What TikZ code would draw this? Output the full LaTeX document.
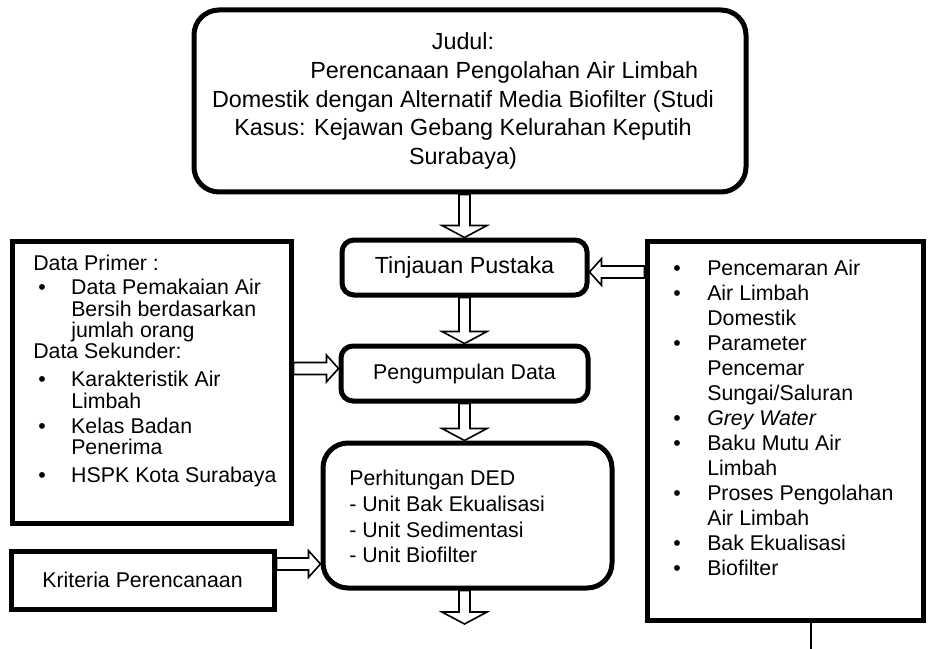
\documentclass[tikz,border=0pt]{standalone}
\usepackage{fontspec}
\setmainfont{Liberation Sans}
\usepackage{tikz}
\usetikzlibrary{calc}

\newcommand{\bul}{\makebox[28.5pt][l]{\hspace{3.75pt}\textbullet}}
\newcommand{\indt}{\hspace*{28.5pt}}
\newcommand{\bulr}{\makebox[25.5pt][l]{\textbullet}}
\newcommand{\indr}{\hspace*{25.5pt}}

\begin{document}
\begin{tikzpicture}[x=0.75pt,y=-0.75pt,
		box/.style={draw,line width=3.75pt,fill=white,inner sep=0pt},
		roundbox/.style={box,rounded corners=9pt},
		blockarrow/.style n args={2}{draw,fill=white,line width=1.2pt,to path={
			let \p1=(\tikztostart),\p2=(\tikztotarget),
			\n1={atan2(\y2-\y1,\x2-\x1)},\n2={veclen(\x2-\x1,\y2-\y1)} in
			($(\p1)+(\n1+90:#1)$) -- ($(\p1)+(\n1:\n2-9pt)+(\n1+90:#1)$)
			-- ($(\p1)+(\n1:\n2-9pt)+(\n1+90:#2)$) -- (\p2)
			-- ($(\p1)+(\n1:\n2-9pt)+(\n1-90:#2)$) -- ($(\p1)+(\n1:\n2-9pt)+(\n1-90:#1)$)
			-- ($(\p1)+(\n1-90:#1)$) -- cycle}},
		varrow/.style={blockarrow={4.1pt}{16.9pt}},
		harrow/.style={blockarrow={4.5pt}{10pt}},
		isi/.style={font=\fontsize{16}{19.25}\selectfont},
		judulfont/.style={font=\fontsize{17.5}{21.5}\selectfont},
		daftar/.style={anchor=north west,inner sep=0pt,align=left}]
		\useasboundingbox (0,0) rectangle (928,649);
		
		\node[roundbox,rounded corners=18.75pt,minimum width=414pt,minimum height=136.5pt] (judul) at (470,101) {};
		\node[roundbox,minimum width=183.75pt,minimum height=41.25pt,judulfont] (tinjauan) at (464.5,267.5) {Tinjauan Pustaka};
		\node[roundbox,minimum width=185.25pt,minimum height=41.25pt,isi] (pengumpulan) at (464.5,373.5) {Pengumpulan Data};
		\node[roundbox,rounded corners=18.75pt,minimum width=216.75pt,minimum height=108.75pt] (perhitungan) at (467.5,515.5) {};
		\node[box,minimum width=209.25pt,minimum height=211.5pt] (primer) at (151.5,382) {};
		\node[box,minimum width=197.25pt,minimum height=43.5pt,isi] (kriteria) at (142.5,580) {Kriteria Perencanaan};
		\node[box,minimum width=207pt,minimum height=284.25pt] (kajian) at (785,430.5) {};
		
		\node[judulfont,align=center,inner sep=0pt] (judulisi) at ($(judul)+(-7,0)$)
		{Judul:\\ \hspace*{62pt}Perencanaan Pengolahan Air Limbah\\ Domestik dengan Alternatif Media Biofilter (Studi\\ Kasus: Kejawan Gebang Kelurahan Keputih\\ Surabaya)};
		\node[daftar,font=\fontsize{16}{16}\selectfont] (primerisi) at (33,255)
		{Data Primer :\\[2pt]
			\bul Data Pemakaian Air\\
			\indt Bersih berdasarkan\\
			\indt jumlah orang\\
			Data Sekunder:\\[5pt]
			\bul Karakteristik Air\\
			\indt Limbah\\[3pt]
			\bul Kelas Badan\\
			\indt Penerima\\[5pt]
			\bul HSPK Kota Surabaya};
		\node[daftar,font=\fontsize{16}{18.75}\selectfont] (kajianisi) at (673,260)
		{\bulr Pencemaran Air\\
			\bulr Air Limbah\\
			\indr Domestik\\
			\bulr Parameter\\
			\indr Pencemar\\
			\indr Sungai/Saluran\\
			\bulr \textit{Grey Water}\\
			\bulr Baku Mutu Air\\
			\indr Limbah\\
			\bulr Proses Pengolahan\\
			\indr Air Limbah\\
			\bulr Bak Ekualisasi\\
			\bulr Biofilter};
		\node[daftar,isi] (perhitunganisi) at (349,470)
		{Perhitungan DED\\ - Unit Bak Ekualisasi\\ - Unit Sedimentasi\\ - Unit Biofilter};
		
		\coordinate (akhir) at (464.5,624);
		\coordinate (masuk) at ($(pengumpulan.west)+(0,-5)$);
		\coordinate (kembali) at ($(tinjauan.east)+(0,4.5)$);
		\coordinate (kriteriakanan) at ($(kriteria.east)+(0,-16)$);
		\coordinate (ujung) at (811,649);
		
		\draw[varrow] (tinjauan.north |- judul.south) to (tinjauan.north);
		\draw[varrow] (tinjauan.south) to (pengumpulan.north);
		\draw[varrow] (pengumpulan.south) to (pengumpulan.south |- perhitungan.north);
		\draw[varrow] (perhitungan.south -| akhir) to (akhir);
		\draw[harrow] (primer.east |- masuk) to (masuk);
		\draw[harrow] (kajian.west |- kembali) to (kembali);
		\draw[harrow] (kriteriakanan) to (perhitungan.west |- kriteriakanan);
		\draw[line width=2.2pt] (kajian.south -| ujung) -- (ujung);
	\end{tikzpicture}
\end{document}
